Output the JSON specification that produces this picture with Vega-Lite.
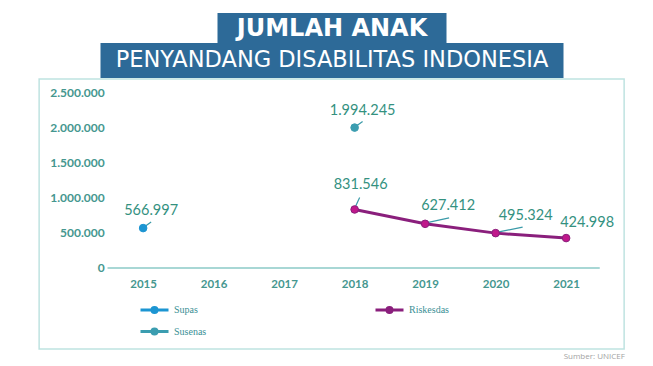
{
  "$schema": "https://vega.github.io/schema/vega-lite/v6.json",
  "background": "white",
  "padding": {"left": 38, "top": 13, "right": 30, "bottom": 4},
  "config": {
    "view": {"stroke": null},
    "locale": {"number": {"decimal": ",", "thousands": ".", "grouping": [3], "currency": ["Rp", ""]}}
  },
  "title": {"text": "Sumber: UNICEF", "orient": "bottom", "anchor": "end", "fontSize": 8, "font": "Open Sans", "fontWeight": "normal", "color": "#a3a3a3", "offset": 3},
  "spacing": 0,
  "center": true,
  "vconcat": [
    {
      "width": 229,
      "height": 30,
      "view": {"fill": "#2d6a98", "stroke": null},
      "data": {"values": [{"t": "JUMLAH ANAK"}]},
      "mark": {"type": "text", "font": "DejaVu Sans", "fontWeight": "bold", "fontSize": 24, "color": "white", "baseline": "middle", "align": "center", "dy": 1},
      "encoding": {"text": {"field": "t"}}
    },
    {
      "width": 463,
      "height": 35,
      "view": {"fill": "#2d6a98", "stroke": null},
      "data": {"values": [{"t": "PENYANDANG DISABILITAS INDONESIA"}]},
      "mark": {"type": "text", "font": "DejaVu Sans", "fontWeight": "normal", "fontSize": 22.5, "color": "white", "baseline": "middle", "align": "center", "dy": -1},
      "encoding": {"text": {"field": "t"}}
    },
    {
      "width": 585,
      "height": 270,
      "view": {"stroke": "#bfe3e1", "strokeWidth": 1.5},
      "data": {"values": [
        {"year": 2015, "value": 566997, "source": "Supas"},
        {"year": 2018, "value": 1994245, "source": "Susenas"},
        {"year": 2018, "value": 831546, "source": "Riskesdas"},
        {"year": 2019, "value": 627412, "source": "Riskesdas"},
        {"year": 2020, "value": 495324, "source": "Riskesdas"},
        {"year": 2021, "value": 424998, "source": "Riskesdas"}
      ]},
      "encoding": {
        "x": {"field": "year", "type": "quantitative",
          "scale": {"domain": [2013.5248, 2021.8227], "nice": false, "zero": false},
          "axis": {"title": null, "values": [2015, 2016, 2017, 2018, 2019, 2020, 2021], "format": "d", "domain": false, "ticks": false, "grid": false, "offset": -73, "labelPadding": 2, "labelFont": "Lato", "labelFontSize": 11.5, "labelFontWeight": "bold", "labelColor": "#45978f", "labelFlush": false}},
        "y": {"field": "value", "type": "quantitative",
          "scale": {"domain": [-1150570, 2684660], "nice": false, "zero": false},
          "axis": {"title": null, "values": [0, 500000, 1000000, 1500000, 2000000, 2500000], "format": ",d", "domain": false, "ticks": false, "grid": false, "offset": -66, "labelPadding": 1, "labelFont": "Lato", "labelFontSize": 12, "labelFontWeight": "bold", "labelColor": "#45978f", "labelFlush": false}}
      },
      "layer": [
        {
          "transform": [{"filter": "datum.source !== 'Riskesdas'"}],
          "mark": {"type": "rule", "color": "#3a9aa8", "strokeWidth": 1.2, "xOffset": 1, "yOffset": -1, "x2Offset": 8, "y2Offset": -6},
          "encoding": {"x2": {"field": "year"}, "y2": {"field": "value"}}
        },
        {
          "transform": [{"filter": "datum.source === 'Riskesdas' && datum.year === 2018"}],
          "mark": {"type": "rule", "color": "#3a9aa8", "strokeWidth": 1.2, "xOffset": 0, "yOffset": -1, "x2Offset": 5, "y2Offset": -12},
          "encoding": {"x2": {"field": "year"}, "y2": {"field": "value"}}
        },
        {
          "transform": [{"filter": "datum.source === 'Riskesdas' && datum.year === 2019"}],
          "mark": {"type": "rule", "color": "#3a9aa8", "strokeWidth": 1.2, "xOffset": 1, "yOffset": -1, "x2Offset": 24, "y2Offset": -6},
          "encoding": {"x2": {"field": "year"}, "y2": {"field": "value"}}
        },
        {
          "transform": [{"filter": "datum.source === 'Riskesdas' && datum.year === 2020"}],
          "mark": {"type": "rule", "color": "#3a9aa8", "strokeWidth": 1.2, "xOffset": 2, "yOffset": -1, "x2Offset": 27, "y2Offset": -6},
          "encoding": {"x2": {"field": "year"}, "y2": {"field": "value"}}
        },
        {
          "transform": [{"filter": "datum.source === 'Riskesdas'"}],
          "mark": {"type": "line", "color": "#8a1f7c", "strokeWidth": 3},
          "encoding": {}
        },
        {
          "mark": {"type": "circle", "size": 58, "opacity": 1, "strokeWidth": 1},
          "encoding": {
            "color": {"field": "source", "type": "nominal",
              "scale": {"domain": ["Supas", "Susenas", "Riskesdas"], "range": ["#1c95d2", "#3b9db0", "#c0188b"]},
              "legend": {
                "title": null, "orient": "none", "legendX": 107, "legendY": 288, "direction": "vertical",
                "columns": 2, "columnPadding": 162, "rowPadding": 3,
                "symbolType": "M-2,0L2,0M0.36,0A0.36,0.36,0,1,1,-0.36,0A0.36,0.36,0,1,1,0.36,0Z",
                "symbolSize": 196, "symbolStrokeWidth": 3,
                "labelFont": "Liberation Serif", "labelFontSize": 10, "labelColor": "#3a8f95", "labelOffset": 11,
                "encode": {"symbols": {"update": {"strokeWidth": {"value": 3}, "opacity": {"value": 1}}}}
              }
            },
            "stroke": {"field": "source", "type": "nominal",
              "scale": {"domain": ["Supas", "Susenas", "Riskesdas"], "range": ["#1c95d2", "#3b9db0", "#8a1f7c"]},
              "legend": {
                "title": null, "orient": "none", "legendX": 107, "legendY": 288, "direction": "vertical",
                "columns": 2, "columnPadding": 162, "rowPadding": 3,
                "symbolType": "M-2,0L2,0M0.36,0A0.36,0.36,0,1,1,-0.36,0A0.36,0.36,0,1,1,0.36,0Z",
                "symbolSize": 196, "symbolStrokeWidth": 3,
                "labelFont": "Liberation Serif", "labelFontSize": 10, "labelColor": "#3a8f95", "labelOffset": 11,
                "encode": {"symbols": {"update": {"strokeWidth": {"value": 3}, "opacity": {"value": 1}}}}
              }
            }
          }
        },
        {
          "transform": [{"filter": "datum.source !== 'Riskesdas'"}],
          "mark": {"type": "text", "font": "Lato", "fontSize": 14.5, "color": "#34917f", "baseline": "middle", "align": "center", "dx": 8, "dy": -17},
          "encoding": {"text": {"field": "value", "type": "quantitative", "format": ",d"}}
        },
        {
          "transform": [{"filter": "datum.source === 'Riskesdas' && datum.year === 2018"}],
          "mark": {"type": "text", "font": "Lato", "fontSize": 14.5, "color": "#34917f", "baseline": "middle", "align": "center", "dx": 6, "dy": -24},
          "encoding": {"text": {"field": "value", "type": "quantitative", "format": ",d"}}
        },
        {
          "transform": [{"filter": "datum.source === 'Riskesdas' && datum.year === 2019"}],
          "mark": {"type": "text", "font": "Lato", "fontSize": 14.5, "color": "#34917f", "baseline": "middle", "align": "center", "dx": 23, "dy": -18},
          "encoding": {"text": {"field": "value", "type": "quantitative", "format": ",d"}}
        },
        {
          "transform": [{"filter": "datum.source === 'Riskesdas' && datum.year === 2020"}],
          "mark": {"type": "text", "font": "Lato", "fontSize": 14.5, "color": "#34917f", "baseline": "middle", "align": "center", "dx": 30, "dy": -17},
          "encoding": {"text": {"field": "value", "type": "quantitative", "format": ",d"}}
        },
        {
          "transform": [{"filter": "datum.source === 'Riskesdas' && datum.year === 2021"}],
          "mark": {"type": "text", "font": "Lato", "fontSize": 14.5, "color": "#34917f", "baseline": "middle", "align": "center", "dx": 21, "dy": -15},
          "encoding": {"text": {"field": "value", "type": "quantitative", "format": ",d"}}
        },
        {
          "mark": {"type": "rule", "color": "#a9d7d4", "strokeWidth": 1.5},
          "encoding": {
            "x": {"datum": 2014.5, "type": "quantitative"},
            "x2": {"datum": 2021.47},
            "y": {"datum": 0, "type": "quantitative"}
          }
        }
      ]
    }
  ]
}
